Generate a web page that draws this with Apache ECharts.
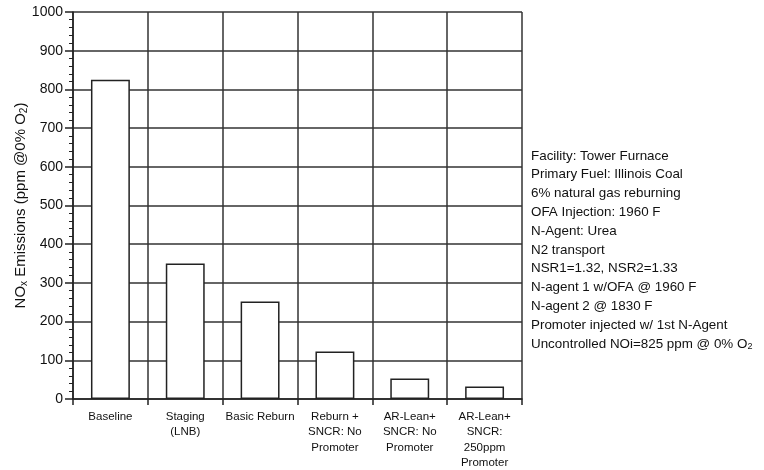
<!DOCTYPE html>
<html><head><meta charset="utf-8">
<script src="https://cdn.jsdelivr.net/npm/echarts@6/dist/echarts.min.js"></script>
<style>html,body{margin:0;padding:0;background:#fff}#c{width:764px;height:470px}</style>
</head><body><div id="c"></div>
<script>
const categories = ['Baseline', 'Staging\n(LNB)', 'Basic Reburn', 'Reburn +\nSNCR: No\nPromoter', 'AR-Lean+\nSNCR: No\nPromoter', 'AR-Lean+\nSNCR:\n250ppm\nPromoter'];
const values = [825, 350, 252, 123, 53, 32];
const yTicks = [0, 100, 200, 300, 400, 500, 600, 700, 800, 900, 1000];
const notes = ['Facility: Tower Furnace', 'Primary Fuel: Illinois Coal', '6% natural gas reburning', 'OFA Injection: 1960 F', 'N-Agent: Urea', 'N2 transport', 'NSR1=1.32, NSR2=1.33', 'N-agent 1 w/OFA @ 1960 F', 'N-agent 2 @ 1830 F', 'Promoter injected w/ 1st N-Agent', 'Uncontrolled NOi=825 ppm @ 0% O{s|2}'];

const font = '"Liberation Sans", Arial, Helvetica, sans-serif';
const chart = echarts.init(document.getElementById('c'), null, {renderer: 'canvas'});
chart.setOption({
  animation: false,
  backgroundColor: '#fff',
  grid: {left: 73, right: 242, top: 12, bottom: 71, containLabel: false, outerBoundsMode: 'none'},
  xAxis: {
    type: 'category', data: categories, boundaryGap: true,
    axisLine: {lineStyle: {color: '#222', width: 1.5}},
    axisTick: {show: true, length: 6, lineStyle: {color: '#222', width: 1.5}},
    splitLine: {show: true, lineStyle: {color: '#333', width: 1.5}},
    axisLabel: {fontFamily: font, fontSize: 11.5, color: '#111', lineHeight: 15.5, margin: 10, interval: 0}
  },
  yAxis: {
    type: 'value', min: yTicks[0], max: yTicks[yTicks.length - 1], interval: 100,
    name: 'NO{s|x} Emissions (ppm @0% O{s|2})', nameLocation: 'middle', nameGap: 44, nameMoveOverlap: false,
    nameTextStyle: {fontFamily: font, fontSize: 15, color: '#111',
      rich: {s: {fontFamily: font, fontSize: 10, color: '#111', verticalAlign: 'bottom', padding: [7, 0, 0, 0]}}},
    axisLine: {show: true, lineStyle: {color: '#222', width: 1.5}},
    axisTick: {show: true, length: 8, lineStyle: {color: '#222', width: 1.5}},
    minorTick: {show: true, splitNumber: 5, length: 4, lineStyle: {color: '#222', width: 1}},
    splitLine: {show: true, lineStyle: {color: '#333', width: 1.5}},
    axisLabel: {fontFamily: font, fontSize: 14, color: '#111', margin: 10, formatter: v => String(v)}
  },
  series: [{
    type: 'bar', data: values, barWidth: '52%',
    itemStyle: {color: '#fff', borderColor: '#222', borderWidth: 1.5}
  }],
  graphic: notes.map((t, i) => ({
    type: 'text', left: 531, top: 149.5 + i * 18.8,
    style: {text: t, fontFamily: font, fontSize: 13.4, fill: '#111',
      rich: {s: {fontFamily: font, fontSize: 9, fill: '#111', verticalAlign: 'bottom', padding: [6, 0, 0, 0]}}}
  }))
});
</script></body></html>
